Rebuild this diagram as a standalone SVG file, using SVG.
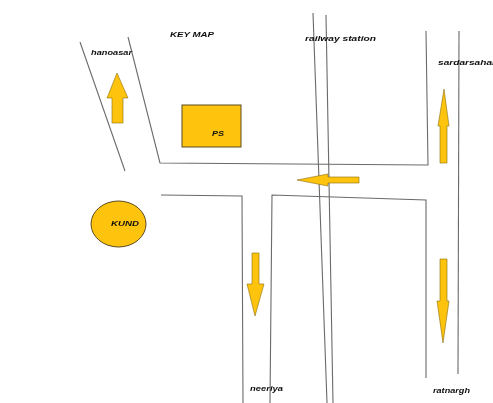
<svg xmlns="http://www.w3.org/2000/svg" width="493" height="403" viewBox="0 0 493 403">
<style>
.road{fill:none;stroke:#6a6a6a;stroke-width:1.1}
.arrow{fill:#fdc30a;stroke:#8a6d10;stroke-width:.6}
.shape{fill:#fdc30a;stroke:#5a4a20;stroke-width:1}
text{font-family:"Liberation Sans",Arial,sans-serif;font-weight:bold;font-style:italic;font-size:7.500px;fill:#111;lengthAdjust:spacingAndGlyphs}
</style>
<defs><filter id="soft" x="-5%" y="-5%" width="110%" height="110%"><feGaussianBlur stdDeviation="0.4"/></filter></defs>
<rect width="493" height="403" fill="#fff"/>
<g filter="url(#soft)">
<g id="connectors">
<path class="road" d="M80 42L125 171"/>
<path class="road" d="M128 37L160 163L428 165L426 31"/>
<path class="road" d="M459 31L458 374"/>
<path class="road" d="M161 195L242 196L243 403"/>
<path class="road" d="M270 403L272 195L426 200L426 378"/>
<path class="road" d="M313 13L327 403"/>
<path class="road" d="M326 15L333 403"/>
</g>
<g id="arrow-hanoasar"><path class="arrow" d="M117 73L128 98H123V123H112V98H107Z"/></g>
<g id="arrow-railway"><path class="arrow" d="M297 180L328 174V177H359V183H328V186Z"/></g>
<g id="arrow-sardarsahar"><path class="arrow" d="M444 89L449 126H447V163H440V126H438Z"/></g>
<g id="arrow-neeriya"><path class="arrow" d="M255 316L264 284H259V253H252V284H247Z"/></g>
<g id="arrow-ratnargh"><path class="arrow" d="M443 343L449 301H447V259H440V301H437Z"/></g>
<g id="node-ps"><rect class="shape" x="182" y="105" width="59" height="42"/><text x="212" y="136" textLength="12" lengthAdjust="spacingAndGlyphs">PS</text></g>
<g id="node-kund"><ellipse class="shape" cx="118.500" cy="224" rx="27.500" ry="23"/><text x="111" y="226" textLength="28" lengthAdjust="spacingAndGlyphs">KUND</text></g>
<g id="labels">
<text x="170" y="37" textLength="44" lengthAdjust="spacingAndGlyphs">KEY MAP</text>
<text x="91" y="55" textLength="41" lengthAdjust="spacingAndGlyphs">hanoasar</text>
<text x="305" y="41" textLength="71" lengthAdjust="spacingAndGlyphs">railway station</text>
<text x="438" y="65" textLength="58" lengthAdjust="spacingAndGlyphs">sardarsahar</text>
<text x="250" y="391" textLength="33" lengthAdjust="spacingAndGlyphs">neeriya</text>
<text x="433" y="393" textLength="37" lengthAdjust="spacingAndGlyphs">ratnargh</text>
</g>
</g>
</svg>
